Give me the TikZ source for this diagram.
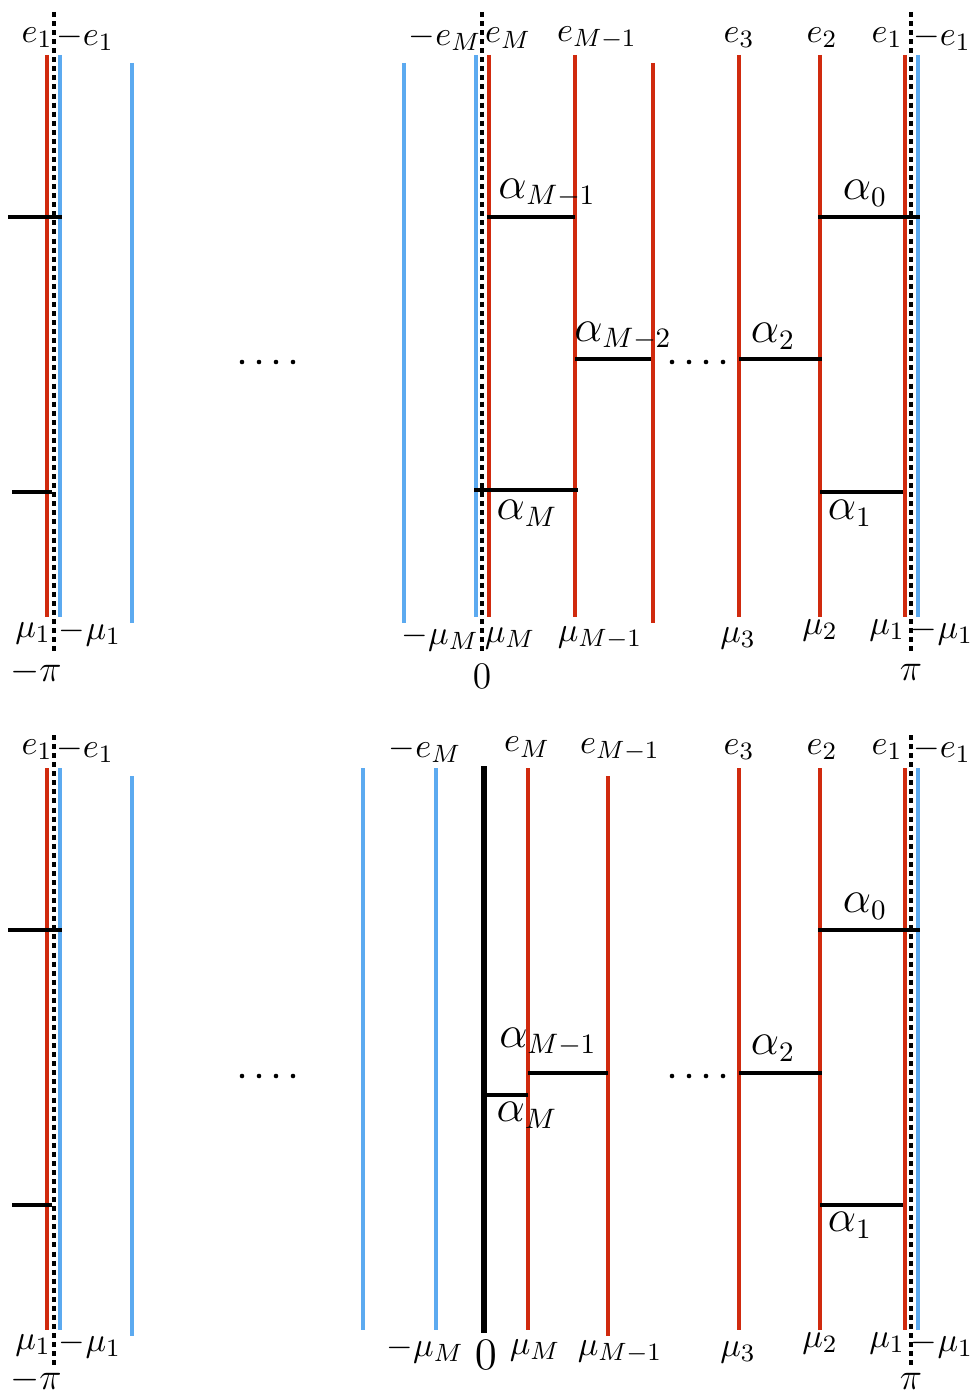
\documentclass[tikz,border=0pt]{standalone}
\definecolor{redline}{RGB}{208,42,14}
\definecolor{blueline}{RGB}{92,170,240}
\begin{document}
\begin{tikzpicture}[x=0.32pt,y=-0.32pt,line cap=butt,
 rl/.style={redline,line width=1pt},
 bl/.style={blueline,line width=1pt},
 bar/.style={line width=1.45pt},
 axisline/.style={line width=1pt,dash pattern=on 1.6pt off 1.3pt},
 lbl/.style={inner sep=0pt,font=\fontsize{11}{13}\selectfont},
 alab/.style={inner sep=0pt,font=\fontsize{13.5}{16}\selectfont}]
 \useasboundingbox (0,0) rectangle (971,1394);
 % ---------- top panel
 \foreach \x in {54,482,911}
 \draw[axisline] (\x,12)--(\x,655);
 \foreach \x in {60,476,918}
 \draw[bl] (\x,55)--(\x,617);
 \foreach \x in {132,404}
 \draw[bl] (\x,63)--(\x,623);
 \foreach \x in {47,489,575,739,820,905}
 \draw[rl] (\x,55)--(\x,617);
 \draw[rl] (653,63)--(653,623);
 \draw[bar] (8,217)--(62,217);
 \draw[bar] (12,492)--(52,492);
 \draw[bar] (487,217)--(575,217);
 \draw[bar] (818,217)--(920,217);
 \draw[bar] (575,359)--(651,359);
 \draw[bar] (739,359)--(822,359);
 \draw[bar] (474,490)--(578,490);
 \draw[bar] (820,492)--(903,492);
 \foreach \x in {242,259,276,293,672,689,706,723}
 \fill (\x,362) circle (2.3);
 \node[alab] (tam1) at (547,193) {$\alpha_{M-1}$};
 \node[alab] (ta0) at (865,193) {$\alpha_0$};
 \node[alab] (tam2) at (623,336) {$\alpha_{M-2}$};
 \node[alab] (ta2) at (773,336) {$\alpha_2$};
 \node[alab] (tam) at (527,513) {$\alpha_M$};
 \node[alab] (ta1) at (850,513) {$\alpha_1$};
 \foreach \x/\t/\n in {37/e_1/a,85/-e_1/b,445/-e_M/c,508/e_M/d,597/e_{M-1}/e,739/e_3/f,822/e_2/g,887/e_1/h,942/-e_1/i}
 \node[lbl] (te\n) at (\x,38) {$\t$};
 \foreach \x/\y/\t/\n in {33/633/\mu_1/a,90/633/-\mu_1/b,440/638/-\mu_M/c,510/638/\mu_M/d,600/638/\mu_{M-1}/e,738/638/\mu_3/f,820/630/\mu_2/g,887/630/\mu_1/h,942/632/-\mu_1/i}
 \node[lbl] (tm\n) at (\x,\y) {$\t$};
 \node[lbl,font=\large] (tpil) at (36,672) {$-\pi$};
 \node[lbl,font=\large] (tzero) at (482,676) {$0$};
 \node[lbl,font=\large] (tpir) at (911,672) {$\pi$};
 % ---------- bottom panel
 \foreach \x in {54,911}
 \draw[axisline] (\x,735)--(\x,1368);
 \foreach \x in {60,363,436,918}
 \draw[bl] (\x,768)--(\x,1330);
 \draw[bl] (132,776)--(132,1336);
 \foreach \x in {47,528,739,820,905}
 \draw[rl] (\x,768)--(\x,1330);
 \draw[rl] (608,776)--(608,1336);
 \draw[line width=1.75pt] (484,766)--(484,1333);
 \draw[bar] (8,930)--(62,930);
 \draw[bar] (12,1205)--(52,1205);
 \draw[bar] (818,930)--(920,930);
 \draw[bar] (528,1073)--(608,1073);
 \draw[bar] (739,1073)--(822,1073);
 \draw[bar] (484,1095)--(528,1095);
 \draw[bar] (820,1205)--(903,1205);
 \foreach \x in {242,259,276,293,672,689,706,723}
 \fill (\x,1076) circle (2.3);
 \node[alab] (ba0) at (865,906) {$\alpha_0$};
 \node[alab] (bam1) at (548,1042) {$\alpha_{M-1}$};
 \node[alab] (ba2) at (773,1048) {$\alpha_2$};
 \node[alab] (bam) at (527,1115) {$\alpha_M$};
 \node[alab] (ba1) at (850,1225) {$\alpha_1$};
 \foreach \x/\y/\t/\n in {37/750/e_1/a,85/750/-e_1/b,425/750/-e_M/c,527/747/e_M/d,620/750/e_{M-1}/e,739/750/e_3/f,822/750/e_2/g,887/750/e_1/h,942/750/-e_1/i}
 \node[lbl] (be\n) at (\x,\y) {$\t$};
 \foreach \x/\y/\t/\n in {33/1345/\mu_1/a,90/1345/-\mu_1/b,425/1350/-\mu_M/c,535/1350/\mu_M/d,620/1352/\mu_{M-1}/e,738/1352/\mu_3/f,820/1343/\mu_2/g,887/1343/\mu_1/h,942/1345/-\mu_1/i}
 \node[lbl] (bm\n) at (\x,\y) {$\t$};
 \node[lbl,font=\large] (bpil) at (36,1380) {$-\pi$};
 \node[lbl,font=\Large] (bzero) at (486,1355) {$0$};
 \node[lbl,font=\large] (bpir) at (911,1381) {$\pi$};
\end{tikzpicture}
\end{document}
